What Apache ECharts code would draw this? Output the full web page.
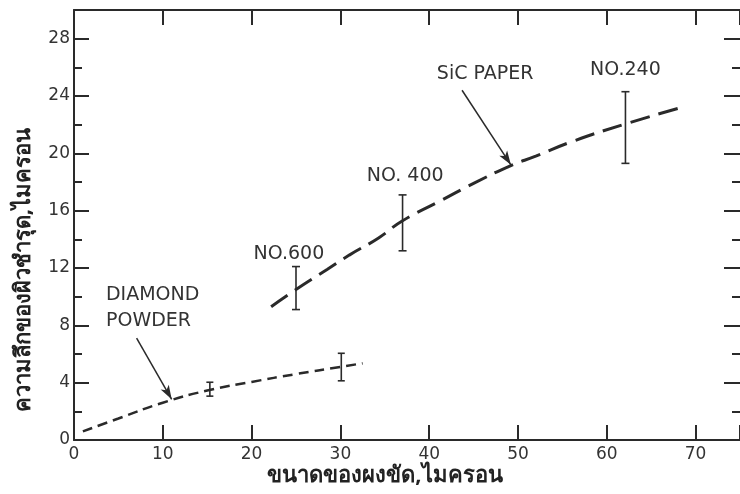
<!DOCTYPE html>
<html>
<head>
<meta charset="utf-8">
<script src="https://cdn.jsdelivr.net/npm/echarts@6/dist/echarts.min.js"></script>
<style>
  html, body { margin: 0; padding: 0; background: #fff; }
  #chart { width: 740px; height: 494px; }
</style>
</head>
<body>
<div id="chart"></div>
<script>
// Grit size (micron) vs. depth of damaged layer (micron)
const sicX = [22.2, 25, 28.5, 31, 34.3, 37, 41, 45, 49.2, 52, 56, 62.1, 68.4];
const sicY = [9.3, 10.5, 11.9, 12.9, 14.1, 15.3, 16.6, 17.9, 19.15, 19.8, 20.8, 22.05, 23.2];

const diamondX = [1, 5, 10, 15, 20, 25, 30, 32.5];
const diamondY = [0.6, 1.5, 2.6, 3.45, 4.05, 4.6, 5.1, 5.35];

// Error bars: [grit size, low, high]
const sicErrX = [25, 37, 62.1];
const sicErrLow = [9.1, 13.2, 19.3];
const sicErrHigh = [12.1, 17.1, 24.3];
const diamondErrX = [15.3, 30.1];
const diamondErrLow = [3.06, 4.13];
const diamondErrHigh = [4.03, 6.05];

const xTicks = [0, 10, 20, 30, 40, 50, 60, 70];
const yTicks = [0, 4, 8, 12, 16, 20, 24, 28];
const yMinorTicks = [2, 6, 10, 14, 18, 22, 26];

const xTitle = 'ขนาดของผงขัด,ไมครอน';
const yTitle = 'ความลึกของผิวชำรุด,ไมครอน';

const gradeNames = ['NO.600', 'NO. 400', 'NO.240'];
const curveNames = ['SiC PAPER', 'DIAMOND\nPOWDER'];

// annotation placement (data units)
const gradeLabelPos = [[24.2, 13.0], [37.3, 18.4], [62.1, 25.8]];
const curveLabelPos = [[46.3, 25.5], [3.6, 9.2]];
const arrowSiC = [[43.7, 24.4], [49.2, 19.2]];
const arrowDiamond = [[7.05, 7.1], [11.0, 2.84]];

const ink = '#2a2a2a';
const tickFont = { fontFamily: 'DejaVu Sans', fontSize: 17, color: '#333' };
const titleFont = 'Noto Sans, DejaVu Sans, sans-serif';
const plotHeight = 430;

function pairs(xs, ys) { return xs.map((x, i) => [x, ys[i]]); }
function bars(xs, lo, hi) { return xs.map((x, i) => [x, lo[i], hi[i]]); }

function errorBarItem(capHalf, width) {
  return function (params, api) {
    const top = api.coord([api.value(0), api.value(2)]);
    const bot = api.coord([api.value(0), api.value(1)]);
    const st = { stroke: ink, lineWidth: width };
    return {
      type: 'group',
      children: [
        { type: 'line', shape: { x1: top[0], y1: top[1], x2: bot[0], y2: bot[1] }, style: st },
        { type: 'line', shape: { x1: top[0] - capHalf, y1: top[1], x2: top[0] + capHalf, y2: top[1] }, style: st },
        { type: 'line', shape: { x1: bot[0] - capHalf, y1: bot[1], x2: bot[0] + capHalf, y2: bot[1] }, style: st }
      ]
    };
  };
}

// vertical axes: ticks placed at explicit values
function yFrameAxis(position, ticks, len, lineShown, labels) {
  return {
    type: 'value', position: position, min: 0, max: 30,
    axisLine: { show: lineShown, onZero: false, lineStyle: { color: ink, width: 2 } },
    axisTick: { inside: true, length: len, customValues: ticks, lineStyle: { color: ink, width: 2 } },
    axisLabel: labels ? Object.assign({ customValues: ticks, formatter: v => String(v) }, tickFont, labels) : { show: false },
    splitLine: { show: false }
  };
}

// horizontal axes: every 10 microns
function xFrameAxis(position, opts) {
  return {
    type: 'value', position: position, min: 0, max: 75, interval: 10,
    offset: opts.offset || 0,
    axisLine: { show: opts.line, onZero: false, lineStyle: { color: ink, width: 2 } },
    axisTick: { show: opts.ticks, inside: opts.inside, length: 15, lineStyle: { color: ink, width: 2 } },
    axisLabel: opts.labels ? Object.assign({ showMaxLabel: false,
      formatter: v => (xTicks.indexOf(v) >= 0 ? String(v) : '') }, tickFont, opts.labels) : { show: false },
    splitLine: { show: false }
  };
}

const chart = echarts.init(document.getElementById('chart'));

const labelStyle = { fontFamily: 'DejaVu Sans', fontSize: 19, color: '#333', lineHeight: 26 };
const hiddenPin = { symbol: 'rect', symbolSize: 1, itemStyle: { color: 'rgba(0,0,0,0)' } };

chart.setOption({
  animation: false,
  backgroundColor: '#fff',
  grid: { left: 74, right: -1, top: 10, bottom: 54 },
  graphic: [
    {
      type: 'text', x: 385, y: 476,
      style: { text: xTitle, fontFamily: titleFont, fontWeight: 'bold', fontSize: 22, fill: '#222', align: 'center', verticalAlign: 'middle' }
    },
    {
      type: 'text', x: 24, y: 270, rotation: Math.PI / 2,
      style: { text: yTitle, fontFamily: titleFont, fontWeight: 'bold', fontSize: 22, fill: '#222', align: 'center', verticalAlign: 'middle' }
    }
  ],
  xAxis: [
    // bottom line and labels
    xFrameAxis('bottom', { line: true, ticks: false, labels: { margin: 6 } }),
    // top frame line with downward ticks
    xFrameAxis('top', { line: true, ticks: true, inside: true }),
    // upward ticks resting on the bottom line
    xFrameAxis('top', { line: false, ticks: true, inside: false, offset: -plotHeight })
  ],
  yAxis: [
    yFrameAxis('left', yTicks, 15, true, { margin: 4 }),
    yFrameAxis('left', yMinorTicks, 8, false, null),
    yFrameAxis('right', yTicks, 16, false, null),
    yFrameAxis('right', yMinorTicks, 8, false, null)
  ],
  series: [
    {
      name: 'SiC paper', type: 'line', smooth: true, showSymbol: false,
      data: pairs(sicX, sicY),
      lineStyle: { color: ink, width: 3, type: [20, 9] },
      markLine: {
        silent: true, symbol: ['none', 'arrow'], symbolSize: [7, 14],
        lineStyle: { color: ink, width: 1.5, type: 'solid' },
        label: { show: false },
        data: [[{ coord: arrowSiC[0] }, { coord: arrowSiC[1] }]]
      },
      markPoint: Object.assign({
        silent: true,
        label: Object.assign({ show: true, position: 'inside', formatter: p => p.name }, labelStyle),
        data: gradeNames.map((n, i) => ({ name: n, coord: gradeLabelPos[i] }))
          .concat([{ name: curveNames[0], coord: curveLabelPos[0] }])
      }, hiddenPin)
    },
    {
      name: 'Diamond powder', type: 'line', smooth: true, showSymbol: false,
      data: pairs(diamondX, diamondY),
      lineStyle: { color: ink, width: 2.5, type: [10, 6] },
      markLine: {
        silent: true, symbol: ['none', 'arrow'], symbolSize: [7, 14],
        lineStyle: { color: ink, width: 1.5, type: 'solid' },
        label: { show: false },
        data: [[{ coord: arrowDiamond[0] }, { coord: arrowDiamond[1] }]]
      },
      markPoint: Object.assign({
        silent: true,
        label: Object.assign({ show: true, position: 'inside', align: 'left', formatter: p => p.name }, labelStyle),
        data: [{ name: curveNames[1], coord: curveLabelPos[1] }]
      }, hiddenPin)
    },
    {
      name: 'SiC range', type: 'custom', renderItem: errorBarItem(4, 1.6),
      data: bars(sicErrX, sicErrLow, sicErrHigh), z: 3
    },
    {
      name: 'Diamond range', type: 'custom', renderItem: errorBarItem(3.5, 1.6),
      data: bars(diamondErrX, diamondErrLow, diamondErrHigh), z: 3
    }
  ]
});
</script>
</body>
</html>
